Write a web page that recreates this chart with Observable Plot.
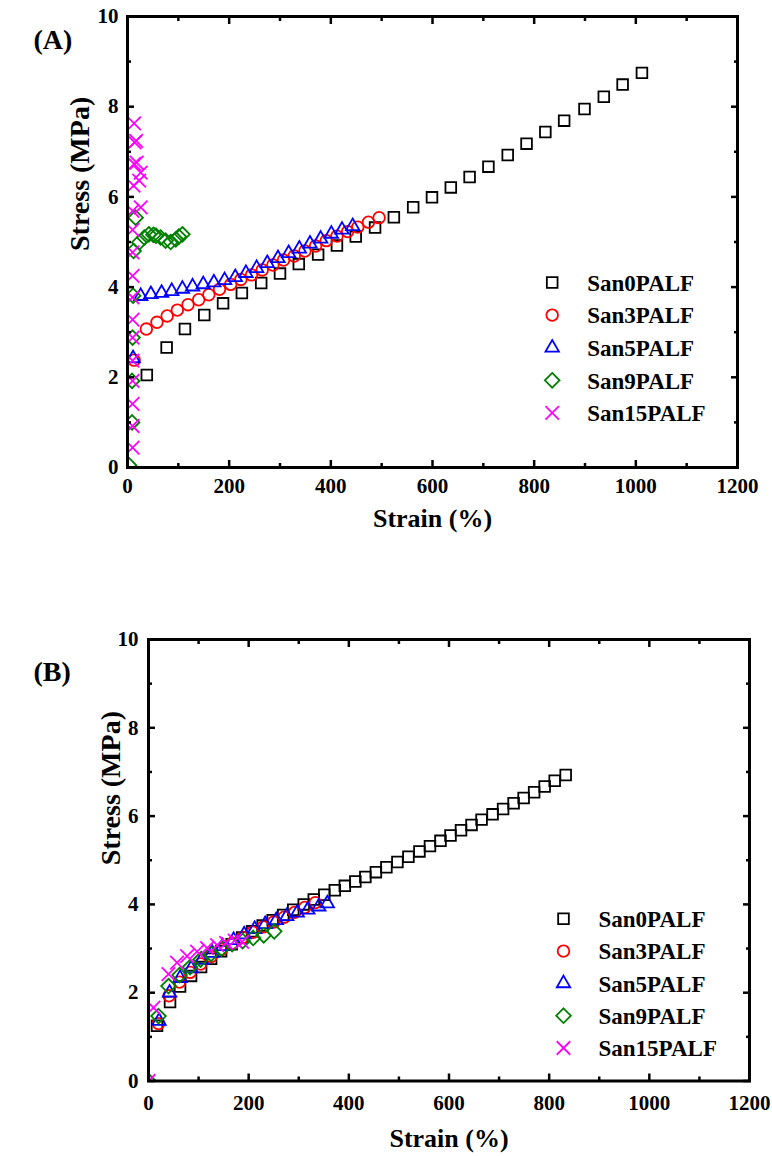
<!DOCTYPE html>
<html><head><meta charset="utf-8">
<script src="https://cdn.jsdelivr.net/npm/d3@7"></script>
<script src="https://cdn.jsdelivr.net/npm/@observablehq/plot@0.6"></script>
<style>
body{margin:0;background:#fff;}
#wrap{position:relative;width:772px;height:1156px;background:#fff;overflow:hidden;}
#a,#b{position:absolute;left:0;}
#a{top:0}
#b{top:560px}
</style></head><body><div id="wrap"><div id="a"></div><div id="b"></div></div>
<script>
const seriesNames = ["San0PALF","San3PALF","San5PALF","San9PALF","San15PALF"];
const seriesColors = ["#000000","#ff0000","#0000ff","#008000","#ff00ff"];
const seriesSymbols = ["square2","circle","triangle2","diamond2","times"];
const seriesRadius = [6.8,5.8,6.4,6.6,6.2];

const xMajorTicks = [0,200,400,600,800,1000,1200];
const xMinorTicks = [100,300,500,700,900,1100];
const yMajorTicks = [0,2,4,6,8,10];
const yMinorTicks = [1,3,5,7,9];

// Panel (A)
const a0Strain = [38,77,113,151,188,225,263,300,337,375,412,449,487,524,562,599,636,673,710,748,785,822,859,899,937,974,1012];
const a0Stress = [2.05,2.66,3.07,3.38,3.64,3.87,4.09,4.30,4.51,4.72,4.92,5.12,5.32,5.55,5.77,5.99,6.21,6.44,6.67,6.93,7.18,7.44,7.69,7.95,8.22,8.49,8.75];
const a3Strain = [13,37,58,78,98,119,140,160,181,203,223,244,265,286,307,328,349,370,391,412,433,453,474,495];
const a3Stress = [2.38,3.07,3.22,3.36,3.49,3.61,3.72,3.83,3.95,4.06,4.17,4.27,4.38,4.49,4.60,4.69,4.80,4.91,5.03,5.13,5.23,5.33,5.44,5.54];
const a5Strain = [11,26,46,67,87,108,128,149,170,191,212,233,254,275,296,317,338,359,380,401,422,443];
const a5Stress = [2.42,3.80,3.84,3.87,3.91,3.96,4.01,4.06,4.10,4.15,4.22,4.31,4.42,4.53,4.64,4.75,4.85,4.96,5.07,5.18,5.27,5.35];
const a9Strain = [3,9,9,10,11,12,16,23,33,42,51,56,65,75,85,95,101,108];
const a9Stress = [0.05,1.0,1.92,2.88,3.81,4.8,5.54,4.99,5.10,5.17,5.16,5.14,5.10,5.03,5.0,5.06,5.12,5.17];
const a15Strain = [10,10,10,10,10,10,10,10,10,10,10,10,26,12,23,26,18,13,14,17,13];
const a15Stress = [0.44,0.92,1.41,1.92,2.37,2.88,3.28,3.77,4.25,4.77,5.27,5.69,5.77,6.25,6.36,6.54,6.76,6.73,7.21,7.24,7.63];

// Panel (B)
const b0Strain = [17,43,63,85,105,125,145,166,187,207,228,248,269,289,310,330,351,372,392,413,433,454,475,497,519,541,562,583,603,624,645,665,687,708,729,749,770,791,811,833];
const b0Stress = [1.25,1.79,2.14,2.38,2.58,2.77,2.94,3.10,3.25,3.39,3.52,3.64,3.76,3.88,4.00,4.11,4.22,4.32,4.42,4.52,4.62,4.73,4.84,4.96,5.08,5.20,5.32,5.44,5.56,5.68,5.80,5.92,6.04,6.16,6.29,6.41,6.54,6.67,6.80,6.93];
const b3Strain = [20,41,62,83,104,125,146,167,188,208,229,250,271,292,312,333];
const b3Stress = [1.30,1.93,2.24,2.46,2.65,2.82,2.98,3.12,3.25,3.37,3.49,3.60,3.71,3.82,3.93,4.04];
const b5Strain = [21,42,63,85,106,127,148,170,191,212,233,255,276,297,318,340,357];
const b5Stress = [1.36,2.0,2.33,2.55,2.74,2.90,3.05,3.19,3.32,3.44,3.55,3.64,3.73,3.81,3.88,3.95,4.02];
const b9Strain = [0,20,40,62,83,104,125,146,167,188,209,230,251];
const b9Stress = [0,1.47,2.15,2.40,2.58,2.75,2.88,3.00,3.10,3.17,3.24,3.30,3.39];
const b15Strain = [0,10,40,57,77,97,117,137,155,172,187];
const b15Stress = [0,1.66,2.42,2.68,2.83,2.93,3.01,3.08,3.13,3.18,3.15];

const xTitle = "Strain (%)";
const yTitle = "Stress (MPa)";

const toRows = (xs, ys) => xs.map((x, i) => ({strain: x, stress: ys[i]}));
const FONT = "'Liberation Serif','Times New Roman',serif";

function panel(cfg) {
  const {series, letter, m, lp, tp, titles} = cfg;
  const marks = [];
  series.forEach((s, i) => {
    marks.push(Plot.dot(toRows(s[0], s[1]), {
      x: "strain", y: "stress", symbol: seriesSymbols[i], r: seriesRadius[i],
      stroke: seriesColors[i], fill: "none", strokeWidth: 1.8, clip: true
    }));
  });
  const axOpt = {label: null, stroke: "#000", strokeWidth: 2.5};
  const blank = () => "";
  const plain = d => String(d);
  marks.push(
    Plot.axisX(xMajorTicks, {...axOpt, anchor: "bottom", tickSize: -7, tickPadding: tp.x, tickFormat: plain, fontSize: 21, fontWeight: "bold"}),
    Plot.axisX(xMinorTicks, {...axOpt, anchor: "bottom", tickSize: -4, tickFormat: blank}),
    Plot.axisX(xMajorTicks, {...axOpt, anchor: "top", tickSize: -7, tickFormat: blank}),
    Plot.axisX(xMinorTicks, {...axOpt, anchor: "top", tickSize: -4, tickFormat: blank}),
    Plot.axisY(yMajorTicks, {...axOpt, anchor: "left", tickSize: -7, tickPadding: tp.y, tickFormat: plain, fontSize: 21, fontWeight: "bold"}),
    Plot.axisY(yMinorTicks, {...axOpt, anchor: "left", tickSize: -4, tickFormat: blank}),
    Plot.axisY(yMajorTicks, {...axOpt, anchor: "right", tickSize: -7, tickFormat: blank}),
    Plot.axisY(yMinorTicks, {...axOpt, anchor: "right", tickSize: -4, tickFormat: blank}),
    Plot.frame({stroke: "#000", strokeWidth: 3})
  );
  marks.push(
    Plot.text([xTitle], {text: d => d, frameAnchor: "bottom", dy: titles.xdy, lineAnchor: "middle", fontSize: 26, fontWeight: "bold", fill: "#000"}),
    Plot.text([yTitle], {text: d => d, frameAnchor: "left", dx: titles.ydx, dy: titles.ydy, lineAnchor: "middle", rotate: -90, fontSize: 28, fontWeight: "bold", fill: "#000"}),
    Plot.text([letter], {text: d => d, frameAnchor: "top-left", dx: titles.ldx, dy: titles.ldy, lineAnchor: "middle", fontSize: 28, fontWeight: "bold", fill: "#000"})
  );
  seriesNames.forEach((name, i) => {
    marks.push(
      Plot.dot([name], {frameAnchor: "top-left", dx: lp.sx, dy: lp.y0 + i * lp.step, symbol: seriesSymbols[i],
        r: seriesRadius[i], stroke: seriesColors[i], fill: "none", strokeWidth: 1.8}),
      Plot.text([name], {text: d => d, frameAnchor: "top-left", dx: lp.tx, dy: lp.y0 + 1 + i * lp.step,
        textAnchor: "start", lineAnchor: "middle", fontSize: 23, fontWeight: "bold", fill: "#000"})
    );
  });
  return Plot.plot({
    width: 772, height: m.h,
    marginLeft: m.l, marginRight: m.r, marginTop: m.t, marginBottom: m.b,
    x: {domain: [0, 1200]},
    y: {domain: [0, 10]},
    style: {fontFamily: FONT, background: "#fff", color: "#000", overflow: "visible"},
    marks
  });
}

document.getElementById("a").appendChild(panel({
  series: [[a0Strain,a0Stress],[a3Strain,a3Stress],[a5Strain,a5Stress],[a9Strain,a9Stress],[a15Strain,a15Stress]],
  letter: "(A)",
  m: {h: 560, l: 127, r: 35, t: 16, b: 93},
  tp: {x: 18, y: 16},
  lp: {sx: 424.7, tx: 459.7, y0: 266, step: 32.6},
  titles: {xdy: 51, ydx: -47, ydy: 9, ldx: -94, ldy: 24}
}));
document.getElementById("b").appendChild(panel({
  series: [[b0Strain,b0Stress],[b3Strain,b3Stress],[b5Strain,b5Stress],[b9Strain,b9Stress],[b15Strain,b15Stress]],
  letter: "(B)",
  m: {h: 596, l: 148, r: 23, t: 79, b: 75.5},
  tp: {x: 21, y: 17},
  lp: {sx: 415, tx: 450, y0: 279.3, step: 32.3},
  titles: {xdy: 57.5, ydx: -37, ydy: 5, ldx: -115, ldy: 32.7}
}));
</script></body></html>
